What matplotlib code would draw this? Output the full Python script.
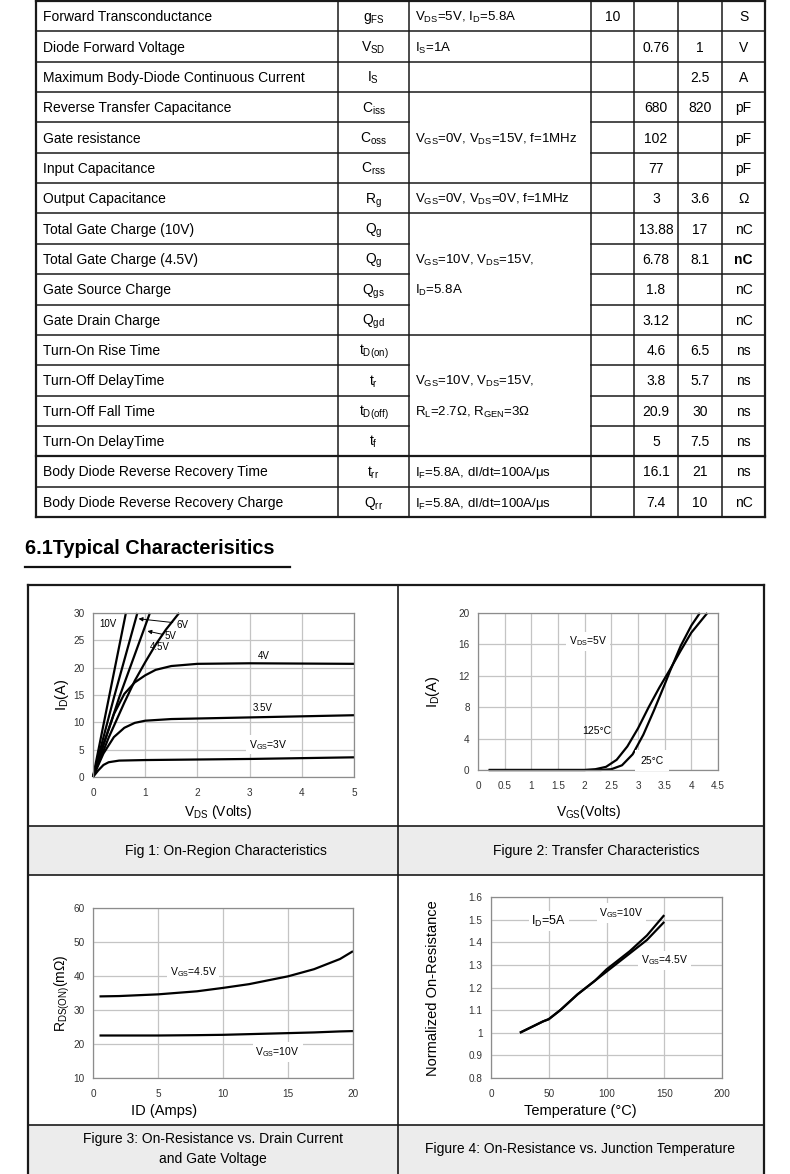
import matplotlib.pyplot as plt
from matplotlib.ticker import FuncFormatter

plt.rcParams['font.family'] = ['Liberation Sans', 'DejaVu Sans']
plt.rcParams['mathtext.fontset'] = 'custom'
plt.rcParams['mathtext.rm'] = 'Liberation Sans'
plt.rcParams['mathtext.it'] = 'Liberation Sans:italic'
plt.rcParams['mathtext.bf'] = 'Liberation Sans:bold'


def sub(s):
    return r'$_\mathregular{' + s + '}$'


# ---- table data ----
params = ["Forward Transconductance", "Diode Forward Voltage",
          "Maximum Body-Diode Continuous Current", "Reverse Transfer Capacitance",
          "Gate resistance", "Input Capacitance", "Output Capacitance",
          "Total Gate Charge (10V)", "Total Gate Charge (4.5V)", "Gate Source Charge",
          "Gate Drain Charge", "Turn-On Rise Time", "Turn-Off DelayTime",
          "Turn-Off Fall Time", "Turn-On DelayTime", "Body Diode Reverse Recovery Time",
          "Body Diode Reverse Recovery Charge"]
symbols = ["g" + sub("FS"), "V" + sub("SD"), "I" + sub("S"), "C" + sub("iss"),
           "C" + sub("oss"), "C" + sub("rss"), "R" + sub("g"), "Q" + sub("g"),
           "Q" + sub("g"), "Q" + sub("gs"), "Q" + sub("gd"), "t" + sub("D(on)"),
           "t" + sub("r"), "t" + sub("D(off)"), "t" + sub("f"), "t" + sub("rr"),
           "Q" + sub("rr")]
conditions = ["V" + sub("DS") + "=5V, I" + sub("D") + "=5.8A",
              "I" + sub("S") + "=1A", "", "",
              "V" + sub("GS") + "=0V, V" + sub("DS") + "=15V, f=1MHz", "",
              "V" + sub("GS") + "=0V, V" + sub("DS") + "=0V, f=1MHz", "",
              "V" + sub("GS") + "=10V, V" + sub("DS") + "=15V,",
              "I" + sub("D") + "=5.8A", "", "",
              "V" + sub("GS") + "=10V, V" + sub("DS") + "=15V,",
              "R" + sub("L") + "=2.7Ω, R" + sub("GEN") + "=3Ω", "",
              "I" + sub("F") + "=5.8A, dI/dt=100A/μs",
              "I" + sub("F") + "=5.8A, dI/dt=100A/μs"]
merged = [(3, 5), (7, 10), (11, 14)]
mins = ["10", "", "", "", "", "", "", "", "", "", "", "", "", "", "", "", ""]
typs = ["", "0.76", "", "680", "102", "77", "3", "13.88", "6.78", "1.8", "3.12",
        "4.6", "3.8", "20.9", "5", "16.1", "7.4"]
maxs = ["", "1", "2.5", "820", "", "", "3.6", "17", "8.1", "", "", "6.5", "5.7",
        "30", "7.5", "21", "10"]
units = ["S", "V", "A", "pF", "pF", "pF", "Ω", "nC", "nC", "nC", "nC", "ns", "ns",
         "ns", "ns", "ns", "nC"]

# ---- chart data ----
# Fig 1: On-region
vds_3v = [0, 0.1, 0.2, 0.3, 0.5, 1, 2, 3, 4, 5]
id_3v = [0, 1.2, 2.2, 2.7, 3.0, 3.1, 3.2, 3.3, 3.45, 3.6]
vds_35v = [0, 0.2, 0.4, 0.6, 0.8, 1.0, 1.5, 2, 3, 4, 5]
id_35v = [0, 4.3, 7.3, 9.0, 9.9, 10.3, 10.6, 10.7, 10.9, 11.1, 11.3]
vds_4v = [0, 0.2, 0.4, 0.6, 0.8, 1.0, 1.2, 1.5, 2, 3, 5]
id_4v = [0, 6, 11.5, 15.2, 17.3, 18.6, 19.6, 20.3, 20.7, 20.8, 20.7]
vds_45v = [0, 0.3, 0.6, 0.8, 1.0, 1.2, 1.4, 1.65]
id_45v = [0, 7.2, 13.6, 17.6, 21, 24.2, 27, 30]
vds_5v = [0, 0.5, 1.09]
id_5v = [0, 14.5, 30]
vds_6v = [0, 0.4, 0.85]
id_6v = [0, 14.5, 30]
vds_10v = [0, 0.63]
id_10v = [0, 30]

# Figure 2: transfer
vgs_125 = [0.2, 2.0, 2.2, 2.4, 2.6, 2.8, 3.0, 3.2, 3.4, 3.6, 3.8, 4.0, 4.3]
id_125 = [0, 0, 0.1, 0.4, 1.3, 3.0, 5.3, 8.0, 10.5, 12.8, 15.2, 17.5, 20]
vgs_25 = [0.2, 2.3, 2.5, 2.7, 2.9, 3.1, 3.3, 3.5, 3.6, 3.8, 4.0, 4.16]
id_25 = [0, 0, 0.1, 0.6, 2.0, 4.5, 7.6, 10.9, 12.6, 15.8, 18.4, 20]

# Figure 3: Rds(on) vs ID
id_amps = [0.5, 2, 5, 8, 10, 12, 15, 17, 19, 20]
rds_45v = [34.0, 34.1, 34.6, 35.5, 36.5, 37.6, 39.9, 42.0, 45.0, 47.3]
rds_10v = [22.5, 22.5, 22.5, 22.6, 22.7, 22.9, 23.2, 23.4, 23.7, 23.8]

# Figure 4: normalized Rds(on) vs temperature
temp_c = [25, 45, 50, 60, 75, 90, 100, 120, 135, 150]
norm_10v = [1.0, 1.05, 1.06, 1.1, 1.17, 1.23, 1.28, 1.36, 1.43, 1.52]
norm_45v = [1.0, 1.05, 1.06, 1.1, 1.17, 1.23, 1.27, 1.35, 1.41, 1.49]

W, H = 790, 1174
fig = plt.figure(figsize=(W / 100, H / 100), dpi=100)
bg = fig.add_axes([0, 0, 1, 1])
bg.set_xlim(0, W)
bg.set_ylim(H, 0)
bg.axis('off')

# ---- table ----
col_x = [36, 338, 409, 591, 634, 678, 722, 765]
row_h = 30.35
top = 1
n = len(params)
row_y = [top + row_h * k for k in range(n + 1)]
lc = '#1a1a1a'
for x in col_x:
    w = 1.6 if x in (36, 765) else 1.1
    bg.plot([x, x], [row_y[0], row_y[-1]], color=lc, lw=w)
for k, y in enumerate(row_y):
    inside = any(a < k <= b for a, b in merged)
    w = 1.6 if k in (0, 15, n) else 1.1
    if inside:
        bg.plot([col_x[0], col_x[2]], [y, y], color=lc, lw=w)
        bg.plot([col_x[3], col_x[-1]], [y, y], color=lc, lw=w)
    else:
        bg.plot([col_x[0], col_x[-1]], [y, y], color=lc, lw=w)

for i in range(n):
    yb = top + row_h * (i + 0.5) + 5
    kw = dict(fontsize=10, va='baseline')
    bg.text(43, yb, params[i], ha='left', **kw)
    bg.text((col_x[1] + col_x[2]) / 2, yb, symbols[i], ha='center', **kw)
    bg.text(415, yb, conditions[i], fontsize=9.5, va='baseline', ha='left')
    bg.text((col_x[3] + col_x[4]) / 2, yb, mins[i], ha='center', **kw)
    bg.text((col_x[4] + col_x[5]) / 2, yb, typs[i], ha='center', **kw)
    bg.text((col_x[5] + col_x[6]) / 2, yb, maxs[i], ha='center', **kw)
    bg.text((col_x[6] + col_x[7]) / 2, yb, units[i], ha='center',
            fontweight='bold' if i == 8 else 'normal', **kw)

# ---- section title ----
bg.text(25, 549, "6.1Typical Characterisitics", fontsize=14.3, fontweight='bold',
        va='center', ha='left')
bg.plot([25, 290], [567, 567], color='#111111', lw=1.6)

# ---- chart frame ----
fl, fr, ft = 28, 764, 585
for y0, y1 in [(826, 875), (1125, 1175)]:
    bg.fill_between([fl, fr], [y0, y0], [y1, y1], color='#ececec', lw=0)
bg.plot([fl, fl], [ft, H + 2], color=lc, lw=1.6)
bg.plot([fr, fr], [ft, H + 2], color=lc, lw=1.6)
bg.plot([fl, fr], [ft, ft], color=lc, lw=1.6)
bg.plot([398, 398], [ft, H + 2], color=lc, lw=1.2)
for y in (826, 875, 1125):
    bg.plot([fl, fr], [y, y], color=lc, lw=1.2)

bg.text(226, 851, "Fig 1: On-Region Characteristics", fontsize=10, ha='center', va='center')
bg.text(596, 851, "Figure 2: Transfer Characteristics", fontsize=10, ha='center', va='center')
bg.text(213, 1149, "Figure 3: On-Resistance vs. Drain Current\nand Gate Voltage", fontsize=10,
        ha='center', va='center', linespacing=1.6)
bg.text(580, 1149, "Figure 4: On-Resistance vs. Junction Temperature", fontsize=10,
        ha='center', va='center')


def add_ax(left, topp, right, bottom):
    return fig.add_axes([left / W, 1 - bottom / H, (right - left) / W, (bottom - topp) / H])


fmt = FuncFormatter(lambda v, p: f'{v:g}')


def style(ax, xlim, ylim, xticks, yticks):
    ax.set_xlim(*xlim)
    ax.set_ylim(*ylim)
    ax.set_xticks(xticks)
    ax.set_yticks(yticks)
    ax.xaxis.set_major_formatter(fmt)
    ax.yaxis.set_major_formatter(fmt)
    ax.grid(True, color='#c4c4c4', lw=0.9)
    ax.set_axisbelow(True)
    for s in ax.spines.values():
        s.set_color('#8c8c8c')
        s.set_linewidth(0.9)
    ax.tick_params(axis='x', length=0, labelsize=7.2, colors='#333333', pad=8)
    ax.tick_params(axis='y', length=0, labelsize=7.2, colors='#333333', pad=6)


box = dict(facecolor='white', edgecolor='none', pad=2)
cw = dict(color='black', lw=1.6, solid_capstyle='butt')

# Fig 1
ax1 = add_ax(93, 613, 354, 777)
style(ax1, (0, 5), (0, 30), range(0, 6), range(0, 31, 5))
for xs, ys in [(vds_3v, id_3v), (vds_35v, id_35v), (vds_4v, id_4v), (vds_45v, id_45v),
               (vds_5v, id_5v), (vds_6v, id_6v), (vds_10v, id_10v)]:
    ax1.plot(xs, ys, clip_on=False, **cw)
ax1.text(0.29, 28.0, "10V", fontsize=7, ha='center', va='center')
ax1.text(1.72, 27.8, "6V", fontsize=7, ha='center', va='center')
ax1.text(1.48, 25.8, "5V", fontsize=7, ha='center', va='center')
ax1.text(1.27, 23.7, "4.5V", fontsize=7, ha='center', va='center')
ax1.text(3.28, 22.1, "4V", fontsize=7, ha='center', va='center')
ax1.text(3.24, 12.6, "3.5V", fontsize=7, ha='center', va='center')
ax1.text(3.35, 5.9, "V" + sub("GS") + "=3V", fontsize=7.5, ha='center', va='center', bbox=box)
ax1.annotate("", xy=(0.82, 29.0), xytext=(1.58, 28.2),
             arrowprops=dict(arrowstyle='-|>', color='black', lw=0.7, mutation_scale=6))
ax1.annotate("", xy=(0.99, 26.8), xytext=(1.38, 26.0),
             arrowprops=dict(arrowstyle='-|>', color='black', lw=0.7, mutation_scale=6))
bg.text(62, 695, "I" + sub("D") + "(A)", fontsize=10.5, rotation=90, ha='center', va='center')
bg.text(218, 812, "V" + sub("DS") + " (Volts)", fontsize=10, ha='center', va='center')

# Fig 2
ax2 = add_ax(478, 613, 718, 770)
style(ax2, (0, 4.5), (0, 20), [i * 0.5 for i in range(10)], range(0, 21, 4))
ax2.plot(vgs_125, id_125, clip_on=False, **cw)
ax2.plot(vgs_25, id_25, clip_on=False, **cw)
ax2.text(2.06, 16.4, "V" + sub("DS") + "=5V", fontsize=7.5, ha='center', va='center', bbox=box)
ax2.text(2.23, 5.0, "125°C", fontsize=7.5, ha='center', va='center')
ax2.text(3.26, 1.15, "25°C", fontsize=7.5, ha='center', va='center', zorder=5, clip_on=False,
         bbox=dict(facecolor='white', edgecolor='none', pad=4))
bg.text(433, 692, "I" + sub("D") + "(A)", fontsize=10.5, rotation=90, ha='center', va='center')
bg.text(589, 812, "V" + sub("GS") + "(Volts)", fontsize=10, ha='center', va='center')

# Fig 3
ax3 = add_ax(93, 908, 353, 1078)
style(ax3, (0, 20), (10, 60), range(0, 21, 5), range(10, 61, 10))
ax3.plot(id_amps, rds_45v, **cw)
ax3.plot(id_amps, rds_10v, **cw)
ax3.text(7.7, 41.2, "V" + sub("GS") + "=4.5V", fontsize=7.5, ha='center', va='center', bbox=box)
ax3.text(14.2, 17.6, "V" + sub("GS") + "=10V", fontsize=7.5, ha='center', va='center', bbox=box)
bg.text(62, 993, "R" + sub("DS(ON)") + "(mΩ)", fontsize=10, rotation=90, ha='center', va='center')
bg.text(164, 1111, "ID (Amps)", fontsize=10.5, ha='center', va='center')

# Fig 4
ax4 = add_ax(491, 897, 722, 1078)
style(ax4, (0, 200), (0.8, 1.6), range(0, 201, 50), [0.8 + 0.1 * i for i in range(9)])
ax4.plot(temp_c, norm_10v, **cw)
ax4.plot(temp_c, norm_45v, **cw)
ax4.text(50, 1.494, "I" + sub("D") + "=5A", fontsize=9, ha='center', va='center', bbox=box)
ax4.text(113, 1.53, "V" + sub("GS") + "=10V", fontsize=7.5, ha='center', va='center', bbox=box)
ax4.text(150, 1.32, "V" + sub("GS") + "=4.5V", fontsize=7.5, ha='center', va='center', bbox=box)
bg.text(433, 988, "Normalized On-Resistance", fontsize=10.5, rotation=90, ha='center', va='center')
bg.text(580, 1111, "Temperature (°C)", fontsize=10.5, ha='center', va='center')

fig.savefig('out.png', dpi=100)
